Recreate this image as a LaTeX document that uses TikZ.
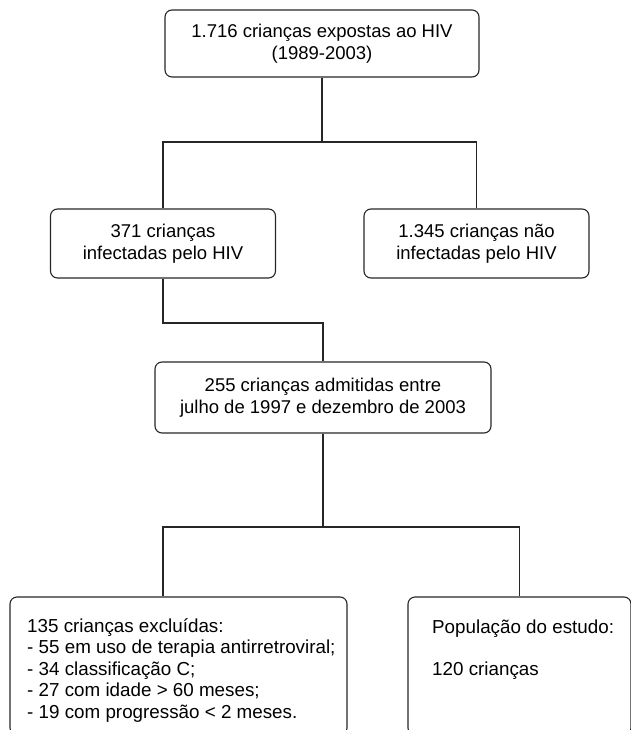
\documentclass[tikz,border=0pt]{standalone}
\usepackage{fontspec}
\setmainfont{Liberation Sans}
\usetikzlibrary{positioning,calc}
\tikzset{
  box/.style={draw=black!85, line width=1.1pt, rounded corners=7pt, inner sep=0pt, align=center,
    font=\fontsize{18.5}{21.5}\selectfont},
  plain/.style={inner sep=0pt, align=left, font=\fontsize{18.8}{21.5}\selectfont},
  link/.style={draw=black!85, line width=1.1pt}
}
\begin{document}
\begin{tikzpicture}[x=1pt,y=-1pt]
\useasboundingbox (0,0) rectangle (630,730);
\node[box, minimum width=314pt, minimum height=67pt] (top) at (322,43.5) {1.716 crianças expostas ao HIV\\(1989-2003)};
\node[box, minimum width=225pt, minimum height=69pt] (left) at (163,243.5) {371 crianças\\infectadas pelo HIV};
\node[box, minimum width=225pt, minimum height=69pt] (right) at (476.5,243.5) {1.345 crianças não\\infectadas pelo HIV};
\node[box, minimum width=336pt, minimum height=71pt] (mid) at (323,397.5) {255 crianças admitidas entre\\julho de 1997 e dezembro de 2003};
\node[box, minimum width=337pt, minimum height=138pt] (bl) at (178.5,666) {};
\node[box, minimum width=223pt, minimum height=138pt] (br) at (519.5,666) {};
\node[plain, anchor=north west] (bltext) at (27,618) {135 crianças excluídas:\\- 55 em uso de terapia antirretroviral;\\- 34 classificação C;\\- 27 com idade > 60 meses;\\- 19 com progressão < 2 meses.};
\node[plain, anchor=north west] (brtext) at (432,620) {População do estudo:\\[20pt]120 crianças};
\coordinate (h1) at (0,142);
\coordinate (h2) at (0,323);
\coordinate (h3) at (0,527);
\draw[link] (top.south) -- (top.south |- h1);
\draw[link] (left.north) -- (left.north |- h1) -- (right.north |- h1) -- (right.north);
\draw[link] (left.south) -- (left.south |- h2) -| (mid.north);
\draw[link] (mid.south) -- (mid.south |- h3);
\draw[link] (left.south |- bl.north) -- (left.south |- h3) -- (br.north |- h3) -- (br.north);
\end{tikzpicture}
\end{document}
